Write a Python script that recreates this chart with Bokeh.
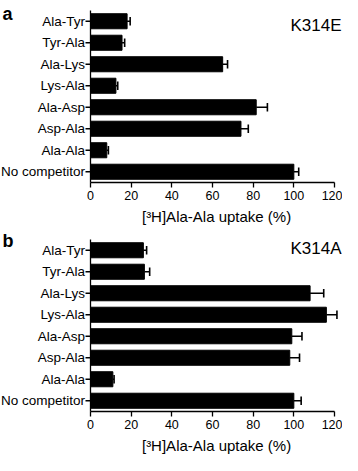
from bokeh.plotting import figure
from bokeh.models import Range1d, FixedTicker, ColumnDataSource
from bokeh.core.properties import value
from bokeh.layouts import column
from bokeh.embed import file_html
from bokeh.resources import INLINE

categories = ["Ala-Tyr", "Tyr-Ala", "Ala-Lys", "Lys-Ala", "Ala-Asp", "Asp-Ala", "Ala-Ala", "No competitor"]
a_values = [18, 15.5, 65, 12.5, 81.5, 74, 8, 100]
a_errors = [1.5, 1.3, 2.4, 0.9, 5.5, 3.6, 0.8, 2.4]
b_values = [26, 26.5, 108, 116, 99, 98, 11, 100]
b_errors = [1.6, 2.6, 6.7, 5.2, 5.0, 4.8, 0.6, 3.6]
x_ticks = [0, 20, 40, 60, 80, 100, 120]
x_title = "[³H]Ala-Ala uptake (%)"
panel_a = ("a", "K314E")
panel_b = ("b", "K314A")

FONT = "Liberation Sans"
WIDTH = 342
AXIS_PX = 90          # pixel position of x = 0 inside the figure
RIGHT_PX = 334        # pixel position of x = 120
PX_PER_UNIT = (RIGHT_PX - AXIS_PX) / 120.0
X_START = -AXIS_PX / PX_PER_UNIT
X_END = (WIDTH - AXIS_PX) / PX_PER_UNIT
PX_PER_CAT = 21.5


def make_panel(vals, errs, letter, name, height, top_pad, title_gap, name_dy, letter_px):
    n = len(categories)
    pos = [n - 1 - i for i in range(n)]
    y_top = (n - 0.5) + top_pad / PX_PER_CAT
    y_bot = y_top - height / PX_PER_CAT
    tick = 5 / PX_PER_UNIT
    cap = 0.2

    p = figure(width=WIDTH, height=height, output_backend="svg", toolbar_location=None,
               x_range=Range1d(X_START, X_END), y_range=Range1d(y_bot, y_top),
               min_border_left=0, min_border_right=0, min_border_top=0,
               min_border_bottom=0)
    p.outline_line_color = None
    p.xgrid.visible = False
    p.ygrid.visible = False
    p.yaxis.visible = False
    p.background_fill_color = "white"
    p.border_fill_color = "white"

    hi = [v + e for v, e in zip(vals, errs)]
    src = ColumnDataSource(dict(y=pos, v=vals, hi=hi,
                                ylo=[q - cap for q in pos], yhi=[q + cap for q in pos],
                                lab=categories))

    p.hbar(y="y", left=0, right="v", height=0.7, source=src,
           fill_color="black", line_color="black")
    # error bars (upper side only)
    p.segment(x0="v", y0="y", x1="hi", y1="y", source=src, line_color="black", line_width=1.6)
    p.segment(x0="hi", y0="ylo", x1="hi", y1="yhi", source=src, line_color="black", line_width=1.6)

    # y axis: line, outward ticks, category labels
    p.segment(x0=[0], y0=[-0.5], x1=[0], y1=[n - 0.5], line_color="black", line_width=1.3)
    p.segment(x0=[0] * n, y0=pos, x1=[-tick] * n, y1=pos, line_color="black", line_width=1.3)
    p.text(x=0, y="y", text="lab", source=src, x_offset=-5.5,
           text_align="right", text_baseline="middle",
           text_font=value(FONT), text_font_size="13.5px", text_color="black")

    # x axis pinned to the bottom of the bars
    ax = p.xaxis[0]
    ax.fixed_location = -0.5
    ax.bounds = (0, 120)
    ax.ticker = FixedTicker(ticks=x_ticks)
    ax.axis_line_width = 1.3
    ax.axis_line_color = "black"
    ax.major_tick_line_width = 1.3
    ax.major_tick_line_color = "black"
    ax.major_tick_out = 5
    ax.major_tick_in = 0
    ax.minor_tick_line_color = None
    ax.major_label_text_color = "black"
    ax.major_label_text_font = FONT
    ax.major_label_text_font_size = "12.5px"
    ax.major_label_standoff = 3

    # axis title
    p.text(x=[62], y=[-0.5 - title_gap / PX_PER_CAT], text=[x_title],
           text_align="center", text_baseline="middle",
           text_font=value(FONT), text_font_size="15px", text_color="black")

    # panel name and letter
    p.text(x=[X_END], y=[n - 1 + name_dy], text=[name], x_offset=-1,
           text_align="right", text_baseline="middle",
           text_font=value(FONT), text_font_size="17px", text_color="black")
    p.text(x=[X_START], y=[(n - 0.5) + letter_px / PX_PER_CAT], text=[letter], x_offset=2,
           text_align="left", text_baseline="top",
           text_font=value(FONT), text_font_size="18px", text_font_style="bold",
           text_color="black")
    return p


pa = make_panel(a_values, a_errors, panel_a[0], panel_a[1], 226, 10, 34, -0.2, 7)
pb = make_panel(b_values, b_errors, panel_b[0], panel_b[1], 229, 13, 34, 0.1, 9)

layout = column(pa, pb)
open("out.html", "w").write(file_html(layout, INLINE))
